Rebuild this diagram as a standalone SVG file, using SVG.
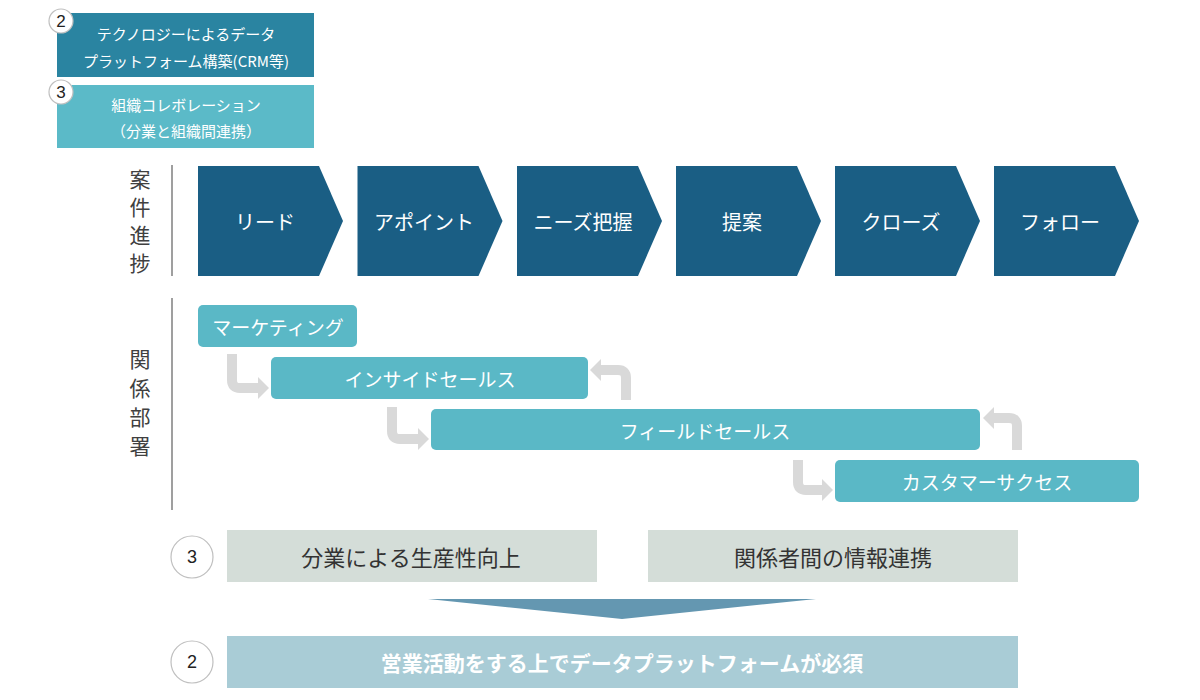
<svg xmlns="http://www.w3.org/2000/svg" width="1200" height="700" viewBox="0 0 1200 700">
<style>
text{font-family:"Noto Sans CJK JP","Noto Sans",sans-serif;dominant-baseline:central;text-anchor:middle}
.chev{fill:#1a5e84}
.chevt{fill:#fff;font-size:20px}
.dept{fill:#5ab8c6}
.deptt{fill:#fff;font-size:19px}
.lbl{fill:#404040;font-size:21px}
.vline{stroke:#7f7f7f;stroke-width:1.5}
.circ{fill:#fff;stroke:#bfbfbf;stroke-width:1.2}
.num{fill:#222;font-size:18px;font-family:"Liberation Sans",sans-serif}
.arr{fill:none;stroke:#d9d9d9;stroke-width:10;stroke-linejoin:round}
.head{fill:#d9d9d9}
.gbox{fill:#d4ddd8}
.gt{fill:#333;font-size:22px}
.topt{fill:#fff;font-size:15px}
</style>
<defs>
<polygon id="chevshape" points="0,0 121,0 145,55 121,110 0,110"/>
</defs>

<g id="box-tech">
<rect x="57" y="13" width="257" height="64" fill="#2a84a1"/>
<text class="topt" x="186" y="33">テクノロジーによるデータ</text>
<text class="topt" x="186" y="60">プラットフォーム構築(CRM等)</text>
<circle class="circ" cx="61" cy="21" r="12"/>
<text class="num" x="61" y="21" style="font-size:17px">2</text>
</g>
<g id="box-org">
<rect x="57" y="85" width="257" height="63" fill="#5bbac8"/>
<text class="topt" x="186" y="104">組織コレボレーション</text>
<text class="topt" x="186" y="130">（分業と組織間連携）</text>
<circle class="circ" cx="61" cy="92" r="12"/>
<text class="num" x="61" y="92" style="font-size:17px">3</text>
</g>

<g id="label-progress">
<text class="lbl" x="140" y="178">案</text>
<text class="lbl" x="140" y="206">件</text>
<text class="lbl" x="140" y="234">進</text>
<text class="lbl" x="140" y="262">捗</text>
<line class="vline" x1="172" y1="165" x2="172" y2="276"/>
</g>

<g id="stage-lead"><use href="#chevshape" class="chev" x="198" y="166"/><text class="chevt" x="265" y="221">リード</text></g>
<g id="stage-appoint"><use href="#chevshape" class="chev" x="357.5" y="166"/><text class="chevt" x="424" y="221">アポイント</text></g>
<g id="stage-needs"><use href="#chevshape" class="chev" x="517" y="166"/><text class="chevt" x="583" y="221">ニーズ把握</text></g>
<g id="stage-proposal"><use href="#chevshape" class="chev" x="676" y="166"/><text class="chevt" x="742" y="221">提案</text></g>
<g id="stage-close"><use href="#chevshape" class="chev" x="835" y="166"/><text class="chevt" x="901" y="221">クローズ</text></g>
<g id="stage-follow"><use href="#chevshape" class="chev" x="994" y="166"/><text class="chevt" x="1060" y="221">フォロー</text></g>

<g id="label-dept">
<text class="lbl" x="140" y="358">関</text>
<text class="lbl" x="140" y="387">係</text>
<text class="lbl" x="140" y="416">部</text>
<text class="lbl" x="140" y="445">署</text>
<line class="vline" x1="172" y1="298" x2="172" y2="510"/>
</g>

<g id="connectors">
<path class="arr" d="M232,354 V380 Q232,388 240,388 H259"/>
<polygon class="head" points="258,377 269,388 258,399"/>
<path class="arr" d="M392,407 V431 Q392,439 400,439 H419"/>
<polygon class="head" points="418,428 429,439 418,450"/>
<path class="arr" d="M798,460 V482 Q798,490 806,490 H823"/>
<polygon class="head" points="822,479 833,490 822,501"/>
<path class="arr" d="M626,400 V378 Q626,370 618,370 H600"/>
<polygon class="head" points="601,359 590,370 601,381"/>
<path class="arr" d="M1017,450 V426 Q1017,418 1009,418 H993"/>
<polygon class="head" points="994,407 983,418 994,429"/>
</g>

<g id="dept-marketing"><rect class="dept" x="198" y="305" width="159" height="42" rx="5"/><text class="deptt" x="278" y="326">マーケティング</text></g>
<g id="dept-inside"><rect class="dept" x="271" y="357" width="317" height="42" rx="5"/><text class="deptt" x="430" y="378">インサイドセールス</text></g>
<g id="dept-field"><rect class="dept" x="431" y="409" width="549" height="41" rx="5"/><text class="deptt" x="705" y="430">フィールドセールス</text></g>
<g id="dept-cs"><rect class="dept" x="835" y="460" width="304" height="42" rx="5"/><text class="deptt" x="987" y="481">カスタマーサクセス</text></g>

<g id="result-3">
<circle class="circ" cx="192" cy="557" r="21"/>
<text class="num" x="192" y="557">3</text>
<rect class="gbox" x="227" y="530" width="370" height="52"/>
<text class="gt" x="411" y="556">分業による生産性向上</text>
<rect class="gbox" x="648" y="530" width="370" height="52"/>
<text class="gt" x="833" y="556">関係者間の情報連携</text>
</g>

<g id="down-arrow">
<polygon points="428,599 816,599 622,619" fill="#6497b1"/>
</g>

<g id="result-2">
<circle class="circ" cx="192" cy="662" r="21"/>
<text class="num" x="192" y="662">2</text>
<rect x="227" y="636" width="791" height="52" fill="#a9ccd6"/>
<text x="622" y="662" style="fill:#fff;font-size:21px;font-weight:bold">営業活動をする上でデータプラットフォームが必須</text>
</g>
</svg>
